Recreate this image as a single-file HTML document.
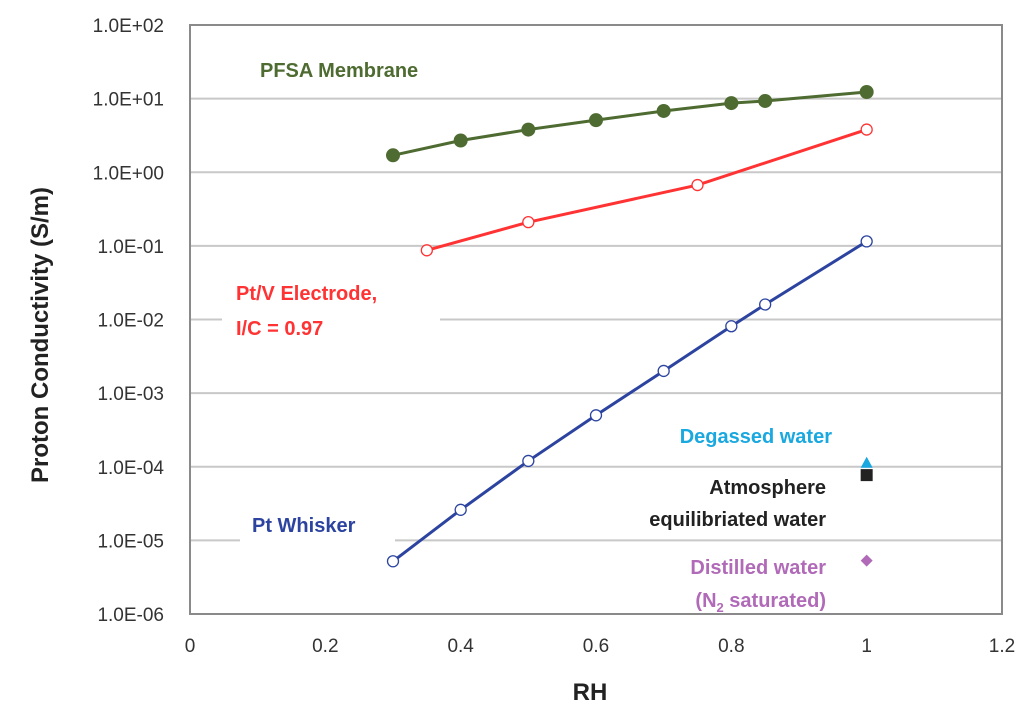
<!DOCTYPE html>
<html><head><meta charset="utf-8"><style>
body{margin:0;background:#fff;}
svg{display:block;font-family:"Liberation Sans",sans-serif;}
</style></head><body>
<svg id="chart" width="1024" height="720">
<g id="grid"></g><g id="marks"></g><g id="labels"></g>
</svg>
<script>
const xTicks=[0,0.2,0.4,0.6,0.8,1,1.2];
const xTickLabels=["0","0.2","0.4","0.6","0.8","1","1.2"];
const yExps=[2,1,0,-1,-2,-3,-4,-5,-6];
const yTickLabels=["1.0E+02","1.0E+01","1.0E+00","1.0E-01","1.0E-02","1.0E-03","1.0E-04","1.0E-05","1.0E-06"];
const pfsaX=[0.3,0.4,0.5,0.6,0.7,0.8,0.85,1.0];
const pfsaY=[1.7,2.7,3.8,5.1,6.8,8.7,9.3,12.3];
const ptvX=[0.35,0.5,0.75,1.0];
const ptvY=[0.087,0.21,0.67,3.8];
const whiskX=[0.3,0.4,0.5,0.6,0.7,0.8,0.85,1.0];
const whiskY=[5.2e-6,2.6e-5,1.2e-4,5.0e-4,2.0e-3,8.1e-3,1.6e-2,0.115];
const degassed=[1.0,1.1e-4];
const atmos=[1.0,7.7e-5];
const distilled=[1.0,5.3e-6];

const L=190,R=1002,T=25,B=614;
const xs=v=>L+(v-0)/1.2*(R-L);
const ys=v=>T+(2-Math.log10(v))/8*(B-T);
const NS="http://www.w3.org/2000/svg";
function mk(p,tag,a,txt){const e=document.createElementNS(NS,tag);for(const k in a)e.setAttribute(k,a[k]);if(txt!==undefined)e.textContent=txt;p.appendChild(e);return e;}
const grid=document.getElementById('grid'),marks=document.getElementById('marks'),labels=document.getElementById('labels');

yExps.forEach((e,i)=>{const y=ys(Math.pow(10,e));
 if(e<2&&e>-6){const g=mk(grid,'line',{x1:L,x2:R,y1:y,y2:y,stroke:'#c8c8c8','stroke-width':2});
 }
 const t=mk(labels,'text',{x:164,y:y+7,'text-anchor':'end','font-size':19,fill:'#333'},yTickLabels[i]);
 
});
xTicks.forEach((v,i)=>{const t=mk(labels,'text',{x:xs(v),y:652,'text-anchor':'middle','font-size':19,fill:'#333'},xTickLabels[i]);
 });
const frame=mk(grid,'rect',{x:L,y:T,width:R-L,height:B-T,fill:'none',stroke:'#8a8a8a','stroke-width':2});


function series(X,Y,color,filled,name){
 const pts=X.map((x,i)=>xs(x)+','+ys(Y[i])).join(' ');
 const pl=mk(marks,'polyline',{points:pts,fill:'none',stroke:color,'stroke-width':3});
 
 X.forEach((x,i)=>{const c=mk(marks,'circle',{cx:xs(x),cy:ys(Y[i]),r:filled?7:5.5,fill:filled?color:'#fff',stroke:color,'stroke-width':filled?0:1.3});
  });
}
[[240,505,155,38],[222,275,218,80]].forEach(r=>{const b=mk(grid,'rect',{x:r[0],y:r[1],width:r[2],height:r[3],fill:'#fff'});
 });
series(pfsaX,pfsaY,'#4e6b31',true,'pfsa');
series(ptvX,ptvY,'#ff3333',false,'ptv-electrode');
series(whiskX,whiskY,'#2c44a0',false,'pt-whisker');
let x=xs(degassed[0]),y=ys(degassed[1]);
let m=mk(marks,'polygon',{points:`${x},${y-7} ${x-6},${y+4} ${x+6},${y+4}`,fill:'#1aa8e0'});

x=xs(atmos[0]);y=ys(atmos[1]);
m=mk(marks,'rect',{x:x-6,y:y-6,width:12,height:12,fill:'#222'});

x=xs(distilled[0]);y=ys(distilled[1]);
m=mk(marks,'polygon',{points:`${x},${y-6} ${x+6},${y} ${x},${y+6} ${x-6},${y}`,fill:'#b06ab8'});


function lab(txt,x,y,col,anchor,name,size){const t=mk(labels,'text',{x:x,y:y,fill:col,'font-size':size||20,'font-weight':'bold','text-anchor':anchor||'start'},txt);
 return t;}
lab('PFSA Membrane',260,77,'#4e6b31','start','pfsa-label');
lab('Pt/V Electrode,',236,300,'#ff3333','start','ptv-label');
lab('I/C = 0.97',236,335,'#ff3333','start','ptv-ic-label');
lab('Pt Whisker',252,532,'#2c44a0','start','pt-whisker-label');
lab('Degassed water',832,443,'#1aa8e0','end','degassed-label');
lab('Atmosphere',826,494,'#222','end','atmosphere-label');
lab('equilibriated water',826,526,'#222','end','atmosphere-label-2');
lab('Distilled water',826,574,'#b06ab8','end','distilled-label');
const d2=lab('(N',826,607,'#b06ab8','end','distilled-label-2');
mk(d2,'tspan',{'font-size':13,dy:5},'2');
mk(d2,'tspan',{dy:-5},' saturated)');
lab('RH',590,700,'#222','middle','x-axis-title',24);
const yt=lab('Proton Conductivity (S/m)',0,0,'#222','middle','y-axis-title',24);
yt.setAttribute('transform','translate(48,335) rotate(-90)');
</script>
</body></html>
